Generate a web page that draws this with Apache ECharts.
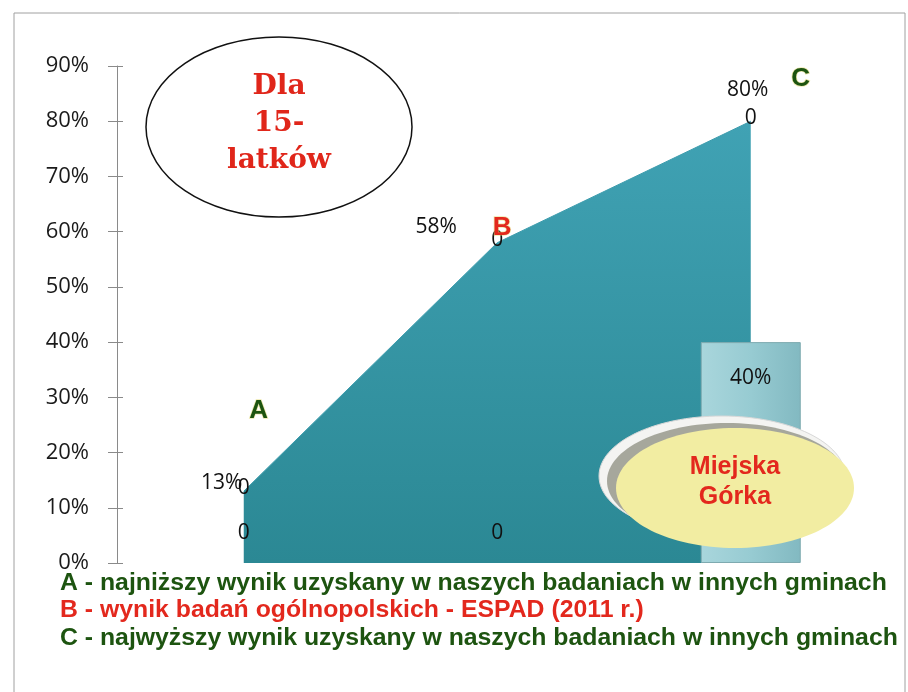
<!DOCTYPE html>
<html>
<head>
<meta charset="utf-8">
<script src="https://cdn.jsdelivr.net/npm/echarts@6/dist/echarts.min.js"></script>
<style>
html,body{margin:0;padding:0;background:#fff;}
#chart{width:908px;height:692px;}
</style>
</head>
<body>
<div id="chart"></div>
<script>
// ---- data ----
var categories = ['A', 'B', 'C'];
var rangeValues = [13, 58, 80];          // A, B, C results (%)
var pointLabelText = ['0', '0', '0'];    // labels printed on the points
var baseLabelValues = [0, 0, null];      // "0" labels near the baseline
var localValues = [null, null, 40];      // Miejska Górka (%)
var letterColors = ['#1d5410', '#e3281d', '#1d5410'];
var yTicks = [0, 10, 20, 30, 40, 50, 60, 70, 80, 90];
var legendLines = [
  'A - najniższy wynik uzyskany w naszych badaniach w innych gminach',
  'B - wynik badań ogólnopolskich - ESPAD (2011 r.)',
  'C - najwyższy wynik uzyskany w naszych badaniach w innych gminach'
];
var legendColors = ['#1d5410', '#e3281d', '#1d5410'];
var titleBubble = 'Dla\n15-\nlatków';
var localName = 'Miejska\nGórka';

// ---- layout helpers ----
var numFont = '"Open Sans", sans-serif';
var legendFamily = '"Liberation Sans Narrow", "Liberation Sans", Arial, sans-serif';
function fitFont(text, width, family) {
  var c = document.createElement('canvas').getContext('2d');
  c.font = 'bold 100px ' + family;
  var w = c.measureText(text).width;
  return Math.max(16, Math.min(26, 100 * width / w));
}
var legendSize = fitFont(legendLines[0], 826, legendFamily);

var pctOffsets = [[-22, -8], [-61, -16], [-3, -31]];
var letterOffsets = [[15, -80], [5, -15], [50, -42]];

var chart = echarts.init(document.getElementById('chart'), null, {renderer: 'canvas'});

var plainLabel = {textBorderWidth: 0, textShadowBlur: 0, opacity: 1};

var option = {
  animation: false,
  backgroundColor: '#ffffff',
  grid: {left: 117, right: 30.5, top: 66, bottom: 129, containLabel: false},
  xAxis: {
    type: 'category',
    data: categories,
    boundaryGap: true,
    axisLine: {show: false},
    axisTick: {show: false},
    axisLabel: {show: false},
    splitLine: {show: false}
  },
  yAxis: [{
    type: 'value',
    min: 0, max: 90, interval: 10,
    axisLine: {show: true, lineStyle: {color: '#8a8a8a', width: 1}},
    axisTick: {show: true, length: 9, lineStyle: {color: '#8a8a8a'}},
    axisLabel: {
      formatter: function (v) { return v + '%'; },
      color: '#1a1a1a', fontSize: 22, fontFamily: numFont, margin: 28
    },
    splitLine: {show: false}
  }, {
    type: 'value',
    min: 0, max: 90, interval: 10,
    position: 'left',
    axisLine: {show: false},
    axisTick: {show: true, inside: true, length: 6, lineStyle: {color: '#8a8a8a'}},
    axisLabel: {show: false},
    splitLine: {show: false}
  }],
  series: [
    {
      type: 'line',
      name: 'zakres',
      data: rangeValues,
      z: 2,
      symbol: 'circle',
      symbolSize: 0,
      showSymbol: true,
      lineStyle: {color: '#3c9cad', width: 1},
      areaStyle: {
        opacity: 1,
        color: new echarts.graphic.LinearGradient(0, 0, 0, 1, [
          {offset: 0, color: '#40a2b4'},
          {offset: 1, color: '#2b8894'}
        ])
      },
      label: Object.assign({
        show: true, position: 'inside', offset: [0, -3],
        formatter: function (p) { return pointLabelText[p.dataIndex]; },
        color: '#111', fontSize: 21, fontFamily: numFont
      }, plainLabel)
    },
    {
      type: 'bar',
      name: 'Miejska Górka',
      data: localValues,
      barWidth: 100,
      z: 3,
      itemStyle: {
        color: new echarts.graphic.LinearGradient(0, 0, 1, 0, [
          {offset: 0, color: '#a9d6dc'},
          {offset: 0.5, color: '#97cbd2'},
          {offset: 1, color: '#82b9c1'}
        ]),
        borderColor: '#7eaab0',
        borderWidth: 1
      },
      label: Object.assign({
        show: true, position: 'insideTop', distance: 25,
        formatter: '{c}%', color: '#111', fontSize: 21, fontFamily: numFont
      }, plainLabel)
    },
    {
      type: 'scatter',
      name: 'procenty',
      data: rangeValues.map(function (v, i) {
        return {value: v, label: {offset: pctOffsets[i]}};
      }),
      symbolSize: 0,
      z: 4,
      itemStyle: {opacity: 1},
      label: Object.assign({
        show: true, position: 'inside',
        formatter: '{c}%', color: '#111', fontSize: 21, fontFamily: numFont
      }, plainLabel)
    },
    {
      type: 'scatter',
      name: 'litery',
      data: rangeValues.map(function (v, i) {
        return {value: v, label: {offset: letterOffsets[i], color: letterColors[i]}};
      }),
      symbolSize: 0,
      z: 4,
      itemStyle: {opacity: 1},
      label: {
        show: true, position: 'inside', opacity: 1,
        formatter: function (p) { return categories[p.dataIndex]; },
        fontSize: 26, fontWeight: 'bold', fontFamily: '"Liberation Sans", Arial, sans-serif',
        textBorderColor: 'rgba(225,215,110,0.55)', textBorderWidth: 1.5
      }
    },
    {
      type: 'scatter',
      name: 'zera',
      data: baseLabelValues,
      symbolSize: 0,
      z: 4,
      itemStyle: {opacity: 1},
      label: Object.assign({
        show: true, position: 'inside', offset: [0, -30],
        formatter: '0', color: '#111', fontSize: 21, fontFamily: numFont
      }, plainLabel)
    }
  ],
  graphic: [
    {
      type: 'rect', z: 0, silent: true,
      shape: {x: 14, y: 13, width: 891, height: 700},
      style: {fill: 'none', stroke: '#a0a0a0', lineWidth: 1}
    },
    {
      type: 'ellipse', z: 50,
      shape: {cx: 279, cy: 127, rx: 133, ry: 90},
      style: {fill: '#ffffff', stroke: '#111', lineWidth: 1.5}
    },
    {
      type: 'text', z: 51,
      x: 279, y: 124,
      style: {
        text: titleBubble, fill: '#e0261a', font: 'bold 28px "DejaVu Serif", serif',
        align: 'center', verticalAlign: 'middle', lineHeight: 37
      }
    },
    {
      type: 'ellipse', z: 50,
      shape: {cx: 722, cy: 476, rx: 123, ry: 60},
      style: {fill: '#f4f4f2', stroke: '#d8d8d8', lineWidth: 1}
    },
    {
      type: 'ellipse', z: 51,
      shape: {cx: 727, cy: 481, rx: 120, ry: 58},
      style: {fill: '#a6a79c'}
    },
    {
      type: 'ellipse', z: 52,
      shape: {cx: 735, cy: 488, rx: 119, ry: 60},
      style: {fill: '#f2eda2'}
    },
    {
      type: 'text', z: 53,
      x: 735, y: 482,
      style: {
        text: localName, fill: '#e3281d', font: 'bold 25px "Liberation Sans", Arial, sans-serif',
        align: 'center', verticalAlign: 'middle', lineHeight: 30
      }
    }
  ].concat(legendLines.map(function (t, i) {
    return {
      type: 'text', z: 60,
      x: 60, y: 583 + i * 27.5,
      style: {
        text: t, fill: legendColors[i],
        font: 'bold ' + legendSize.toFixed(1) + 'px ' + legendFamily,
        align: 'left', verticalAlign: 'middle'
      }
    };
  }))
};
chart.setOption(option);
</script>
</body>
</html>
